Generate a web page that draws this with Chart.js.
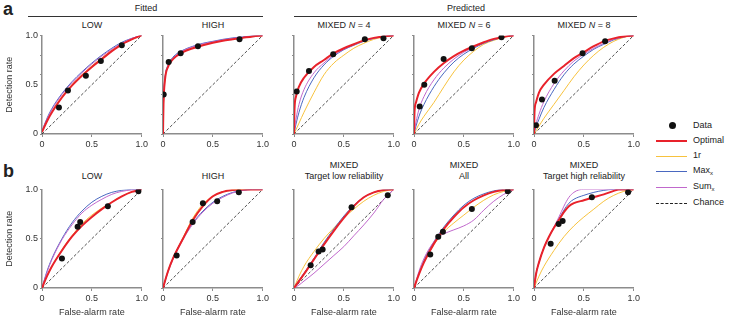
<!DOCTYPE html>
<html>
<head>
<meta charset="utf-8">
<script src="https://cdn.jsdelivr.net/npm/chart.js@4.4.0/dist/chart.umd.min.js"></script>
<style>
  body { margin: 0; width: 729px; height: 320px; position: relative; background: #fff; overflow: hidden;
         font-family: 'Liberation Sans', Arial, Helvetica, sans-serif; color: #222; }
  canvas { position: absolute; }
  .t { position: absolute; font-size: 9px; line-height: 11px; white-space: nowrap; transform: translateX(-50%); text-align: center; }
  .lab { position: absolute; font-weight: bold; font-size: 18px; line-height: 18px; }
  .rule { position: absolute; height: 0; border-top: 1px solid #333; }
  .lg { position: absolute; font-size: 9px; line-height: 11px; white-space: nowrap; }
  .lgline { position: absolute; height: 0; }
  sub { font-size: 6px; vertical-align: -2px; line-height: 0; }
</style>
</head>
<body>

<div class="lab" style="left:3px;top:0px;">a</div>
<div class="lab" style="left:3px;top:162px;">b</div>

<div class="t" style="left:146px;top:3px;">Fitted</div>
<div class="rule" style="left:28px;width:235px;top:16px;"></div>
<div class="t" style="left:466px;top:3px;">Predicted</div>
<div class="rule" style="left:294px;width:343px;top:16px;"></div>

<div class="t" style="left:92px;top:20px;">LOW</div>
<div class="t" style="left:213px;top:20px;">HIGH</div>
<div class="t" style="left:344px;top:20px;">MIXED <i>N</i> = 4</div>
<div class="t" style="left:464px;top:20px;">MIXED <i>N</i> = 6</div>
<div class="t" style="left:584px;top:20px;">MIXED <i>N</i> = 8</div>

<div class="t" style="left:92px;top:171px;">LOW</div>
<div class="t" style="left:213px;top:171px;">HIGH</div>
<div class="t" style="left:344px;top:160px;">MIXED<br>Target low reliability</div>
<div class="t" style="left:464px;top:160px;">MIXED<br>All</div>
<div class="t" style="left:584px;top:160px;">MIXED<br>Target high reliability</div>

<!-- legend -->
<div style="position:absolute;left:669px;top:122px;width:7px;height:7px;border-radius:50%;background:#111;"></div>
<div class="lg" style="left:693px;top:120px;">Data</div>
<div class="lgline" style="left:656px;width:31px;top:140px;border-top:2px solid #e8222b;"></div>
<div class="lg" style="left:693px;top:135px;">Optimal</div>
<div class="lgline" style="left:656px;width:31px;top:156px;border-top:1px solid #f7c23e;"></div>
<div class="lg" style="left:693px;top:150px;">1r</div>
<div class="lgline" style="left:656px;width:31px;top:171px;border-top:1px solid #4a68c0;"></div>
<div class="lg" style="left:693px;top:165px;">Max<sub>x</sub></div>
<div class="lgline" style="left:656px;width:31px;top:187px;border-top:1px solid #c068cc;"></div>
<div class="lg" style="left:693px;top:181px;">Sum<sub>x</sub></div>
<div class="lgline" style="left:656px;width:31px;top:203px;border-top:1px dashed #222;"></div>
<div class="lg" style="left:693px;top:197px;">Chance</div>

<script>
// ROC values, [false-alarm rate, detection rate]
const chanceLine = [[0, 0], [1, 1]];

// a: fitted LOW
const aLowData = [[0.17, 0.27], [0.26, 0.44], [0.44, 0.59], [0.59, 0.74], [0.80, 0.90]];
const aLowOptimal = [[0, 0.02], [0.05, 0.13], [0.1, 0.22], [0.2, 0.37], [0.3, 0.49], [0.4, 0.59], [0.5, 0.68], [0.6, 0.76], [0.7, 0.84], [0.8, 0.91], [0.9, 0.96], [1, 1]];
const aLowOneR = [[0, 0.02], [0.1, 0.23], [0.2, 0.38], [0.3, 0.5], [0.4, 0.6], [0.5, 0.69], [0.6, 0.77], [0.7, 0.85], [0.8, 0.91], [0.9, 0.96], [1, 1]];
const aLowMax = [[0, 0.03], [0.05, 0.16], [0.1, 0.26], [0.2, 0.41], [0.3, 0.53], [0.4, 0.63], [0.5, 0.72], [0.6, 0.8], [0.7, 0.87], [0.8, 0.93], [0.9, 0.97], [1, 1]];
const aLowSum = [[0, 0.03], [0.05, 0.15], [0.1, 0.25], [0.2, 0.4], [0.3, 0.52], [0.4, 0.62], [0.5, 0.71], [0.6, 0.79], [0.7, 0.86], [0.8, 0.92], [0.9, 0.97], [1, 1]];

// a: fitted HIGH
const aHighData = [[0.007, 0.40], [0.057, 0.73], [0.177, 0.82], [0.35, 0.89], [0.767, 0.96]];
const aHighOptimal = [[0, 0], [0.005, 0.3], [0.02, 0.55], [0.05, 0.68], [0.1, 0.76], [0.2, 0.83], [0.3, 0.87], [0.4, 0.9], [0.5, 0.925], [0.6, 0.945], [0.7, 0.96], [0.8, 0.975], [0.9, 0.99], [1, 1]];
const aHighOneR = [[0, 0], [0.005, 0.3], [0.02, 0.55], [0.05, 0.68], [0.1, 0.76], [0.2, 0.835], [0.3, 0.875], [0.4, 0.905], [0.5, 0.93], [0.6, 0.95], [0.7, 0.965], [0.8, 0.98], [0.9, 0.99], [1, 1]];
const aHighMax = [[0, 0], [0.005, 0.32], [0.02, 0.57], [0.05, 0.7], [0.1, 0.78], [0.2, 0.85], [0.3, 0.89], [0.4, 0.92], [0.5, 0.94], [0.6, 0.96], [0.7, 0.975], [0.8, 0.985], [0.9, 0.995], [1, 1]];
const aHighSum = [[0, 0], [0.005, 0.31], [0.02, 0.56], [0.05, 0.69], [0.1, 0.77], [0.2, 0.845], [0.3, 0.885], [0.4, 0.915], [0.5, 0.935], [0.6, 0.955], [0.7, 0.97], [0.8, 0.982], [0.9, 0.993], [1, 1]];

// a: predicted MIXED N = 4
const aN4Data = [[0.027, 0.43], [0.15, 0.64], [0.393, 0.81], [0.71, 0.96], [0.897, 0.97]];
const aN4Optimal = [[0, 0], [0.005, 0.25], [0.02, 0.38], [0.05, 0.48], [0.1, 0.57], [0.2, 0.68], [0.3, 0.75], [0.4, 0.82], [0.5, 0.87], [0.6, 0.91], [0.7, 0.95], [0.8, 0.975], [0.9, 0.99], [1, 1]];
const aN4OneR = [[0, 0], [0.05, 0.11], [0.1, 0.22], [0.2, 0.42], [0.3, 0.6], [0.4, 0.72], [0.5, 0.8], [0.6, 0.87], [0.7, 0.92], [0.8, 0.96], [0.9, 0.985], [1, 1]];
const aN4Max = [[0, 0], [0.02, 0.1], [0.05, 0.22], [0.1, 0.37], [0.2, 0.57], [0.3, 0.7], [0.4, 0.79], [0.5, 0.855], [0.6, 0.9], [0.7, 0.94], [0.8, 0.97], [0.9, 0.99], [1, 1]];
const aN4Sum = [[0, 0], [0.02, 0.15], [0.05, 0.3], [0.1, 0.45], [0.2, 0.62], [0.3, 0.72], [0.4, 0.8], [0.5, 0.86], [0.6, 0.905], [0.7, 0.945], [0.8, 0.97], [0.9, 0.99], [1, 1]];

// a: predicted MIXED N = 6
const aN6Data = [[0.057, 0.28], [0.103, 0.5], [0.297, 0.76], [0.58, 0.87], [0.877, 0.98]];
const aN6Optimal = [[0, 0], [0.005, 0.22], [0.02, 0.32], [0.05, 0.42], [0.1, 0.51], [0.2, 0.63], [0.3, 0.72], [0.4, 0.79], [0.5, 0.845], [0.6, 0.89], [0.7, 0.93], [0.8, 0.965], [0.9, 0.985], [1, 1]];
const aN6OneR = [[0, 0], [0.05, 0.1], [0.1, 0.18], [0.2, 0.32], [0.3, 0.48], [0.4, 0.63], [0.5, 0.75], [0.6, 0.84], [0.7, 0.91], [0.8, 0.95], [0.9, 0.98], [1, 1]];
const aN6Max = [[0, 0], [0.02, 0.08], [0.05, 0.18], [0.1, 0.3], [0.2, 0.48], [0.3, 0.62], [0.4, 0.73], [0.5, 0.81], [0.6, 0.87], [0.7, 0.92], [0.8, 0.955], [0.9, 0.985], [1, 1]];
const aN6Sum = [[0, 0], [0.02, 0.12], [0.05, 0.25], [0.1, 0.38], [0.2, 0.55], [0.3, 0.67], [0.4, 0.76], [0.5, 0.83], [0.6, 0.88], [0.7, 0.925], [0.8, 0.96], [0.9, 0.985], [1, 1]];

// a: predicted MIXED N = 8
const aN8Data = [[0.02, 0.09], [0.08, 0.35], [0.207, 0.54], [0.487, 0.82], [0.713, 0.94]];
const aN8Optimal = [[0, 0], [0.005, 0.22], [0.02, 0.32], [0.05, 0.42], [0.1, 0.5], [0.2, 0.61], [0.3, 0.69], [0.4, 0.77], [0.5, 0.83], [0.6, 0.89], [0.7, 0.94], [0.8, 0.97], [0.9, 0.99], [1, 1]];
const aN8OneR = [[0, 0], [0.05, 0.08], [0.1, 0.16], [0.2, 0.3], [0.3, 0.44], [0.4, 0.58], [0.5, 0.7], [0.6, 0.8], [0.7, 0.88], [0.8, 0.94], [0.9, 0.98], [1, 1]];
const aN8Max = [[0, 0], [0.02, 0.07], [0.05, 0.15], [0.1, 0.27], [0.2, 0.45], [0.3, 0.6], [0.4, 0.71], [0.5, 0.79], [0.6, 0.86], [0.7, 0.91], [0.8, 0.955], [0.9, 0.985], [1, 1]];
const aN8Sum = [[0, 0], [0.02, 0.1], [0.05, 0.2], [0.1, 0.33], [0.2, 0.51], [0.3, 0.64], [0.4, 0.74], [0.5, 0.81], [0.6, 0.87], [0.7, 0.92], [0.8, 0.96], [0.9, 0.985], [1, 1]];

// b: LOW
const bLowData = [[0.2, 0.3], [0.357, 0.62], [0.383, 0.67], [0.66, 0.83], [0.967, 0.98]];
const bLowOptimal = [[0, 0], [0.05, 0.12], [0.1, 0.22], [0.2, 0.38], [0.3, 0.52], [0.4, 0.63], [0.5, 0.72], [0.6, 0.8], [0.7, 0.87], [0.8, 0.93], [0.9, 0.975], [1, 1]];
const bLowOneR = [[0, 0], [0.05, 0.12], [0.1, 0.22], [0.2, 0.39], [0.3, 0.53], [0.4, 0.65], [0.5, 0.74], [0.6, 0.81], [0.7, 0.87], [0.8, 0.93], [0.9, 0.975], [1, 1]];
const bLowMax = [[0, 0], [0.05, 0.17], [0.1, 0.3], [0.2, 0.5], [0.3, 0.66], [0.4, 0.78], [0.5, 0.87], [0.6, 0.93], [0.7, 0.97], [0.8, 0.99], [0.9, 1], [1, 1]];
const bLowSum = [[0, 0], [0.05, 0.16], [0.1, 0.29], [0.2, 0.49], [0.3, 0.64], [0.4, 0.76], [0.5, 0.84], [0.6, 0.9], [0.7, 0.95], [0.8, 0.98], [0.9, 0.995], [1, 1]];

// b: HIGH
const bHighData = [[0.137, 0.33], [0.297, 0.67], [0.4, 0.86], [0.543, 0.88], [0.76, 0.97]];
const bHighOptimal = [[0, 0], [0.05, 0.17], [0.1, 0.3], [0.2, 0.5], [0.3, 0.69], [0.4, 0.83], [0.5, 0.93], [0.6, 0.975], [0.7, 0.995], [0.8, 1], [1, 1]];
const bHighOneR = [[0, 0], [0.05, 0.17], [0.1, 0.3], [0.2, 0.51], [0.3, 0.71], [0.4, 0.85], [0.5, 0.93], [0.6, 0.975], [0.7, 0.995], [0.8, 1], [1, 1]];
const bHighMax = [[0, 0], [0.05, 0.17], [0.1, 0.3], [0.2, 0.5], [0.3, 0.66], [0.4, 0.78], [0.5, 0.87], [0.6, 0.93], [0.7, 0.97], [0.8, 0.99], [0.9, 1], [1, 1]];
const bHighSum = [[0, 0], [0.05, 0.16], [0.1, 0.29], [0.2, 0.49], [0.3, 0.65], [0.4, 0.77], [0.5, 0.86], [0.6, 0.92], [0.7, 0.965], [0.8, 0.99], [0.9, 1], [1, 1]];

// b: MIXED target low reliability
const bTLowData = [[0.167, 0.23], [0.247, 0.37], [0.287, 0.39], [0.577, 0.82], [0.94, 0.94]];
const bTLowOptimal = [[0, 0], [0.05, 0.07], [0.1, 0.14], [0.2, 0.29], [0.3, 0.44], [0.4, 0.58], [0.5, 0.71], [0.6, 0.83], [0.7, 0.92], [0.8, 0.97], [0.9, 0.995], [1, 1]];
const bTLowOneR = [[0, 0], [0.05, 0.12], [0.1, 0.22], [0.2, 0.37], [0.3, 0.5], [0.4, 0.61], [0.5, 0.71], [0.6, 0.8], [0.7, 0.88], [0.8, 0.94], [0.9, 0.98], [1, 1]];
const bTLowMax = [[0, 0], [0.05, 0.08], [0.1, 0.15], [0.2, 0.3], [0.3, 0.46], [0.4, 0.6], [0.5, 0.73], [0.6, 0.84], [0.7, 0.92], [0.8, 0.97], [0.9, 0.995], [1, 1]];
const bTLowSum = [[0, 0], [0.05, 0.03], [0.1, 0.07], [0.2, 0.15], [0.3, 0.24], [0.4, 0.33], [0.5, 0.42], [0.6, 0.53], [0.7, 0.64], [0.8, 0.76], [0.9, 0.9], [0.95, 0.95], [1, 1]];

// b: MIXED all
const bAllData = [[0.163, 0.34], [0.243, 0.52], [0.29, 0.57], [0.58, 0.8], [0.94, 0.98]];
const bAllOptimal = [[0, 0], [0.05, 0.14], [0.1, 0.26], [0.2, 0.45], [0.3, 0.6], [0.4, 0.72], [0.5, 0.82], [0.6, 0.89], [0.7, 0.94], [0.8, 0.975], [0.9, 0.995], [1, 1]];
const bAllOneR = [[0, 0], [0.05, 0.14], [0.1, 0.26], [0.2, 0.44], [0.3, 0.57], [0.4, 0.66], [0.5, 0.74], [0.6, 0.82], [0.7, 0.89], [0.8, 0.945], [0.9, 0.98], [1, 1]];
const bAllMax = [[0, 0], [0.05, 0.15], [0.1, 0.28], [0.2, 0.47], [0.3, 0.62], [0.4, 0.74], [0.5, 0.84], [0.6, 0.91], [0.7, 0.955], [0.8, 0.985], [0.9, 1], [1, 1]];
const bAllSum = [[0, 0], [0.05, 0.17], [0.1, 0.3], [0.2, 0.47], [0.25, 0.52], [0.3, 0.55], [0.4, 0.59], [0.5, 0.63], [0.6, 0.69], [0.7, 0.79], [0.8, 0.88], [0.9, 0.95], [1, 1]];

// b: MIXED target high reliability
const bTHighData = [[0.167, 0.45], [0.247, 0.65], [0.287, 0.68], [0.58, 0.92], [0.943, 0.97]];
const bTHighOptimal = [[0, 0], [0.02, 0.14], [0.05, 0.26], [0.1, 0.41], [0.15, 0.52], [0.2, 0.61], [0.25, 0.69], [0.3, 0.77], [0.35, 0.83], [0.4, 0.86], [0.5, 0.89], [0.6, 0.92], [0.7, 0.95], [0.8, 0.985], [0.85, 1], [1, 1]];
const bTHighOneR = [[0, 0], [0.05, 0.12], [0.1, 0.22], [0.2, 0.38], [0.3, 0.52], [0.4, 0.63], [0.5, 0.72], [0.6, 0.8], [0.7, 0.88], [0.8, 0.94], [0.9, 0.98], [1, 1]];
const bTHighMax = [[0, 0], [0.02, 0.14], [0.05, 0.26], [0.1, 0.41], [0.15, 0.52], [0.2, 0.61], [0.25, 0.7], [0.3, 0.79], [0.35, 0.86], [0.4, 0.9], [0.5, 0.94], [0.6, 0.97], [0.7, 0.99], [0.8, 1], [1, 1]];
const bTHighSum = [[0, 0], [0.02, 0.14], [0.05, 0.26], [0.1, 0.41], [0.15, 0.52], [0.2, 0.62], [0.25, 0.72], [0.3, 0.83], [0.35, 0.92], [0.4, 0.97], [0.45, 0.995], [0.5, 1], [1, 1]];

const axisLabels = { 0: '0', 5: '0.5', 10: '1.0' };

const FONT = "'Liberation Sans', Arial, Helvetica, sans-serif";
const COLORS = { optimal: '#e8222b', oneR: '#f7c23e', max: '#4a68c0', sum: '#c068cc', chance: '#222', data: '#111' };

const panelX = [42, 163, 294, 414, 534];
const rowTop = { a: 34, b: 188 };

function toXY(arr) {
    return arr.map(p => ({ x: p[0], y: p[1] }));
}

function lineSet(arr, color, width) {
    return {
        data: toXY(arr), showLine: true, borderColor: color, borderWidth: width,
        pointRadius: 0, cubicInterpolationMode: 'monotone', fill: false
    };
}

function buildPanel(row, col, data, optimal, oneR, max, sum) {
    const yw = col === 0 ? 42 : 24;
    const xh = row === 'b' ? 32 : 16;
    const padTop = 6, padRight = 8;
    const w = yw + 100 + padRight;
    const h = padTop + 100 + xh;

    const cv = document.createElement('canvas');
    cv.width = w; cv.height = h;
    cv.style.left = (panelX[col] - yw) + 'px';
    cv.style.top = (rowTop[row] - padTop) + 'px';
    document.body.appendChild(cv);

    const tickFont = { family: FONT, size: 9 };

    new Chart(cv, {
        type: 'scatter',
        data: {
            datasets: [
                { data: toXY(data), pointRadius: 3, pointBackgroundColor: COLORS.data, pointBorderWidth: 0, showLine: false },
                lineSet(optimal, COLORS.optimal, 2),
                lineSet(sum, COLORS.sum, 1),
                lineSet(max, COLORS.max, 1),
                lineSet(oneR, COLORS.oneR, 1),
                Object.assign(lineSet(chanceLine, COLORS.chance, 0.8), { borderDash: [3, 2] })
            ]
        },
        options: {
            responsive: false,
            animation: false,
            events: [],
            layout: { padding: { top: padTop, right: padRight, left: 0, bottom: 0 } },
            plugins: { legend: { display: false }, tooltip: { enabled: false } },
            scales: {
                x: {
                    type: 'linear', min: 0, max: 1,
                    afterFit: s => { s.height = xh; },
                    border: { display: true, color: '#8c8c8c', width: 1.5 },
                    grid: { drawOnChartArea: false, drawTicks: true, tickLength: 3, tickColor: '#8c8c8c' },
                    ticks: {
                        stepSize: 0.5, autoSkip: false, maxRotation: 0, padding: 2, color: '#333', font: tickFont,
                        callback: v => axisLabels[Math.round(v * 10)]
                    },
                    title: {
                        display: row === 'b', text: 'False-alarm rate', color: '#333',
                        font: { family: FONT, size: 9 }, padding: { top: 0, bottom: 2 }
                    }
                },
                y: {
                    type: 'linear', min: 0, max: 1,
                    afterFit: s => { s.width = yw; },
                    border: { display: true, color: '#8c8c8c', width: 1.5 },
                    grid: {
                        drawOnChartArea: false, drawTicks: true, tickLength: 2,
                        tickColor: c => {
                            const k = Math.round(c.tick.value * 10);
                            const step = row === 'a' ? 2 : 5;
                            return k % step === 0 ? '#8c8c8c' : 'rgba(0,0,0,0)';
                        }
                    },
                    ticks: {
                        stepSize: 0.1, autoSkip: false, padding: 2, color: '#333', font: tickFont,
                        callback: v => col === 0 ? (axisLabels[Math.round(v * 10)] || '') : ''
                    },
                    title: {
                        display: col === 0, text: 'Detection rate', color: '#333',
                        font: { family: FONT, size: 9 }, padding: { top: 4, bottom: 0 }
                    }
                }
            }
        }
    });
}

buildPanel('a', 0, aLowData, aLowOptimal, aLowOneR, aLowMax, aLowSum);
buildPanel('a', 1, aHighData, aHighOptimal, aHighOneR, aHighMax, aHighSum);
buildPanel('a', 2, aN4Data, aN4Optimal, aN4OneR, aN4Max, aN4Sum);
buildPanel('a', 3, aN6Data, aN6Optimal, aN6OneR, aN6Max, aN6Sum);
buildPanel('a', 4, aN8Data, aN8Optimal, aN8OneR, aN8Max, aN8Sum);

buildPanel('b', 0, bLowData, bLowOptimal, bLowOneR, bLowMax, bLowSum);
buildPanel('b', 1, bHighData, bHighOptimal, bHighOneR, bHighMax, bHighSum);
buildPanel('b', 2, bTLowData, bTLowOptimal, bTLowOneR, bTLowMax, bTLowSum);
buildPanel('b', 3, bAllData, bAllOptimal, bAllOneR, bAllMax, bAllSum);
buildPanel('b', 4, bTHighData, bTHighOptimal, bTHighOneR, bTHighMax, bTHighSum);
</script>
</body>
</html>
